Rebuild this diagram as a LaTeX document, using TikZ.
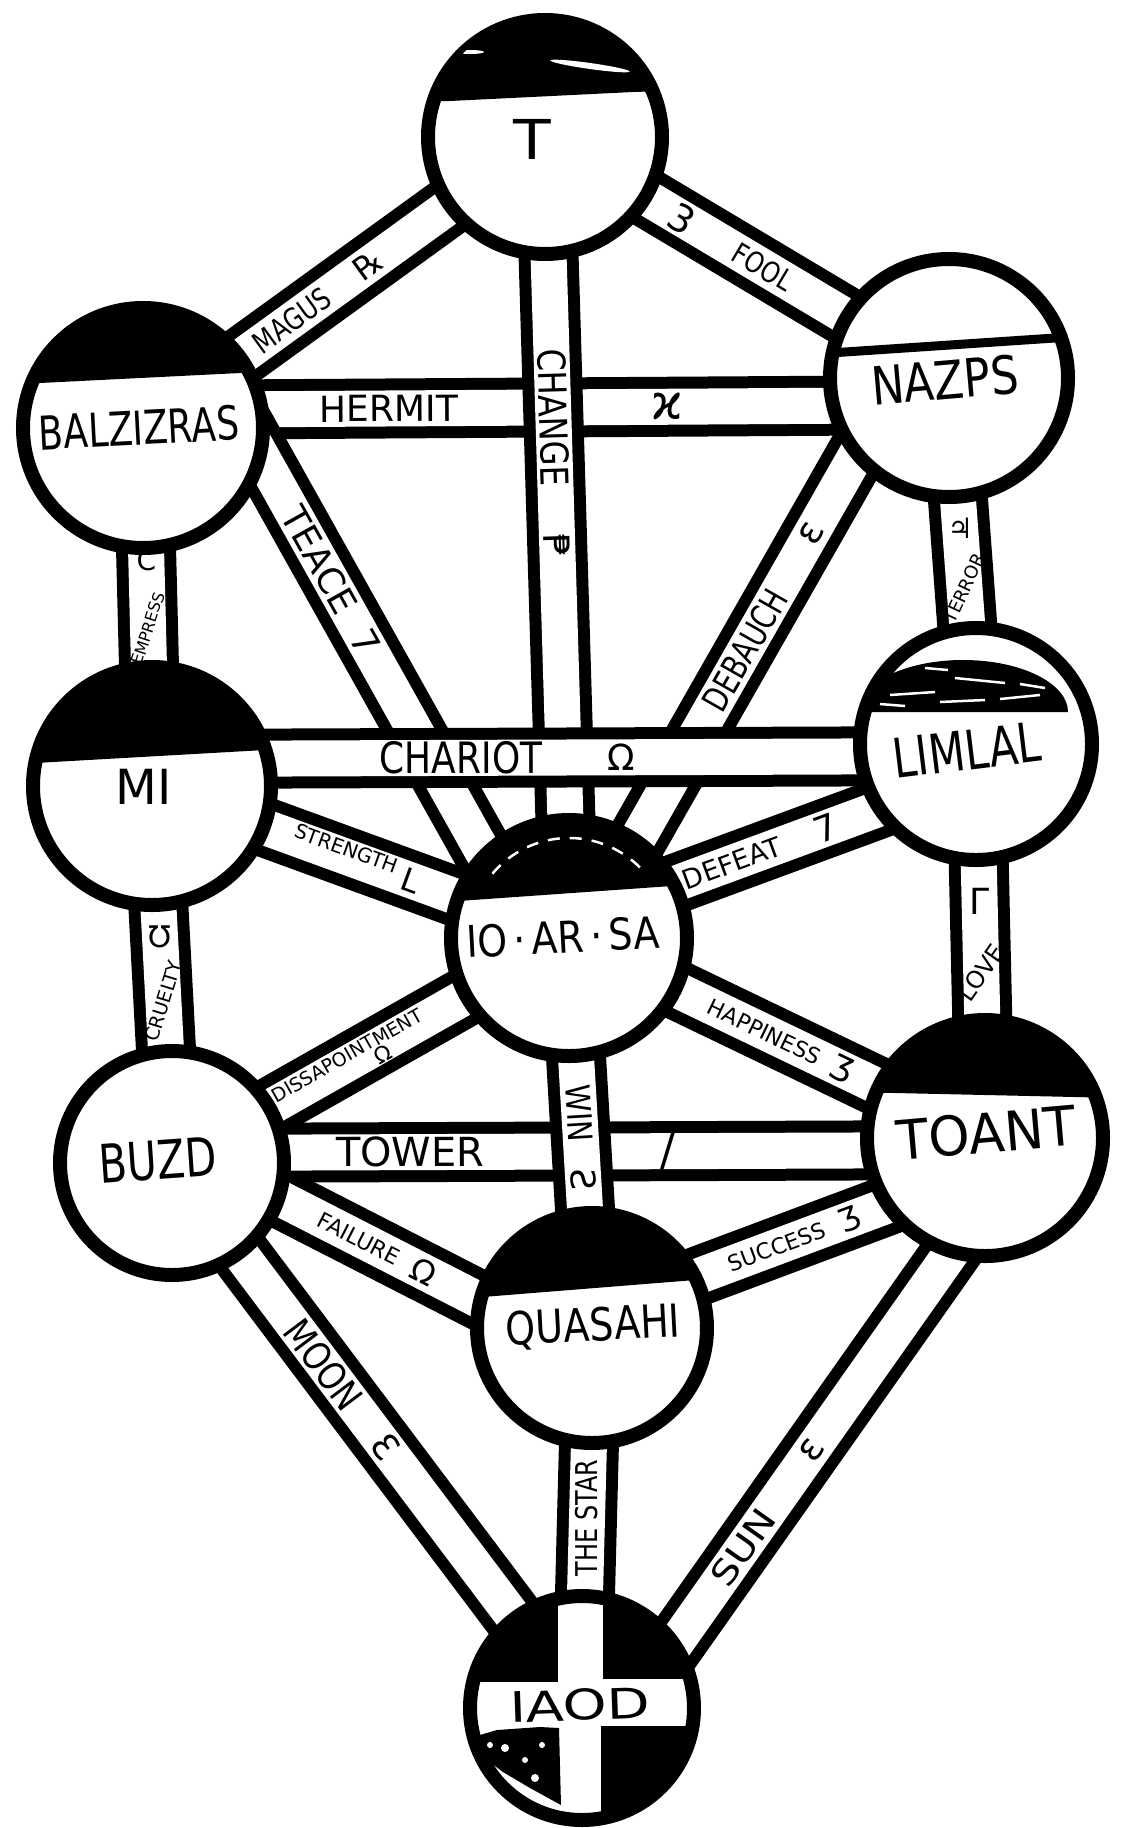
\documentclass[tikz,border=0pt]{standalone}
\usepackage{fontspec}
\usepackage{graphicx}
\setmainfont{DejaVu Sans}
\usetikzlibrary{calc}
\pgfdeclarelayer{paper}
\pgfdeclarelayer{bandA}
\pgfdeclarelayer{bandB}
\pgfdeclarelayer{bandC}
\pgfsetlayers{paper,bandA,bandB,bandC,main}
\newcommand\hw[3]{\scalebox{#1}[#2]{#3}}
\begin{document}
\begin{tikzpicture}[x=1pt,y=-1pt,
  ring/.style={circle,draw=black,line width=14pt,fill=white,inner sep=0pt},
  cname/.style={inner sep=0pt,text=black},
  plab/.style={inner sep=0pt,sloped,text=black},
  vlab/.style={inner sep=0pt,text=black},
  fs/.style={font=\fontsize{#1}{#1}\selectfont},
]
\useasboundingbox (0,0) rectangle (1126,1828);
\begin{pgfonlayer}{paper}
\fill[white] (0,0) rectangle (1126,1828);
\end{pgfonlayer}

% ---------- spheres ----------
\node[ring,minimum size=234pt] (T) at (545,137) {};
\node[ring,minimum size=240pt] (BALZ) at (143,428) {};
\node[ring,minimum size=238pt] (NAZPS) at (949,378) {};
\node[ring,minimum size=238pt] (MI) at (152,786) {};
\node[ring,minimum size=232pt] (LIMLAL) at (976,744) {};
\node[ring,minimum size=236pt] (IO) at (569,938) {};
\node[ring,minimum size=224pt] (BUZD) at (172,1163) {};
\node[ring,minimum size=236pt] (TOANT) at (985,1138) {};
\node[ring,minimum size=230pt] (QUA) at (592,1328) {};
\node[ring,minimum size=224pt] (IAOD) at (582,1708) {};

% ---------- paths (bands) ----------
\begin{pgfonlayer}{bandA}
\foreach \bw/\bc in {60/black,36/white}{
 \draw[line width=\bw pt,draw=\bc] (BALZ.center) -- (T.center);
 \draw[line width=\bw pt,draw=\bc] (T.center) -- (NAZPS.center);
 \draw[line width=\bw pt,draw=\bc] ($(BALZ.center)+(0,-18)$) -- ($(NAZPS.center)+(0,27)$);
 \draw[line width=\bw pt,draw=\bc] (BALZ.center) -- (MI.center);
 \draw[line width=\bw pt,draw=\bc] (NAZPS.center) -- (LIMLAL.center);
}
\end{pgfonlayer}
\begin{pgfonlayer}{bandB}
\foreach \bw/\bc in {60/black,36/white}{
 \draw[line width=\bw pt,draw=\bc] (T.center) -- (IO.center);
 \draw[line width=\bw pt,draw=\bc] ($(BALZ.center)+(83,-35)$) -- ($(IO.center)+(-38,0)$);
 \draw[line width=\bw pt,draw=\bc] ($(IO.center)+(12,0)$) -- ($(NAZPS.center)+(-49,0)$);
 \draw[line width=\bw pt,draw=\bc] (MI.center) -- (IO.center);
 \draw[line width=\bw pt,draw=\bc] ($(IO.center)+(0,-15)$) -- ($(LIMLAL.center)+(0,29)$);
 \draw[line width=\bw pt,draw=\bc] (MI.center) -- (BUZD.center);
 \draw[line width=\bw pt,draw=\bc] (LIMLAL.center) -- (TOANT.center);
 \draw[line width=\bw pt,draw=\bc] (BUZD.center) -- (IO.center);
 \draw[line width=\bw pt,draw=\bc] (IO.center) -- (TOANT.center);
 \draw[line width=\bw pt,draw=\bc] ($(BUZD.center)+(0,-10)$) -- ($(TOANT.center)+(0,12)$);
 \draw[line width=\bw pt,draw=\bc] ($(BUZD.center)+(0,-20)$) -- ($(QUA.center)+(0,30)$);
 \draw[line width=\bw pt,draw=\bc] ($(QUA.center)+(0,-12)$) -- ($(TOANT.center)+(0,31)$);
 \draw[line width=\bw pt,draw=\bc] (BUZD.center) -- (IAOD.center);
 \draw[line width=\bw pt,draw=\bc] (QUA.center) -- (IAOD.center);
 \draw[line width=\bw pt,draw=\bc] ($(TOANT.center)+(47,0)$) -- ($(IAOD.center)+(48,0)$);
}
\end{pgfonlayer}
\begin{pgfonlayer}{bandC}
\foreach \bw/\bc in {60/black,36/white}{
 \draw[line width=\bw pt,draw=\bc] ($(MI.center)+(0,-27)$) -- ($(LIMLAL.center)+(0,12)$);
 \draw[line width=\bw pt,draw=\bc] (IO.center) -- (QUA.center);
}
\end{pgfonlayer}

% ---------- caps and markings inside spheres ----------
\begin{scope}
\clip (T.center) circle[radius=117];
\fill[black] (400,0) -- (700,0) -- (700,90) -- (633,92) -- (450,101) -- (400,102) -- cycle;
\fill[white, rotate around={-8:(590,66)}] (590,66) ellipse[x radius=40,y radius=3];
\fill[white] (470,52) ellipse[x radius=14,y radius=2];
\end{scope}
\begin{scope}
\clip (BALZ.center) circle[radius=120];
\fill[black] (0,385) -- (300,370) -- (300,250) -- (0,250) -- cycle;
\end{scope}
\begin{scope}
\clip (NAZPS.center) circle[radius=119];
\draw[black,line width=9pt] (800,355) -- (1100,335);
\end{scope}
\begin{scope}
\clip (MI.center) circle[radius=119];
\fill[black] (0,765) -- (300,748) -- (300,600) -- (0,600) -- cycle;
\end{scope}
\begin{scope}
\clip (LIMLAL.center) circle[radius=116];
\fill[black] (858,712) arc[start angle=180,end angle=360,x radius=105,y radius=52] -- cycle;
\draw[white,line width=2.5pt] (890,695) -- (935,692) (955,678) -- (1005,683) (880,704) -- (905,706)
  (1000,699) -- (1040,695) (925,668) -- (948,670) (1020,684) -- (1045,688) (940,702) -- (985,700);
\end{scope}
\begin{scope}
\clip (IO.center) circle[radius=118];
\fill[black] (430,903) -- (700,884) -- (700,780) -- (430,780) -- cycle;
\draw[white,line width=2.5pt,dash pattern=on 12pt off 10pt] ($(IO.center)+(-140:100)$) arc[start angle=-140,end angle=-40,radius=100];
\end{scope}
\begin{scope}
\clip (TOANT.center) circle[radius=118];
\fill[black] (850,1092) -- (1120,1098) -- (1120,1000) -- (850,1000) -- cycle;
\end{scope}
\begin{scope}
\clip (QUA.center) circle[radius=115];
\fill[black] (470,1298) -- (720,1278) -- (720,1200) -- (470,1200) -- cycle;
\end{scope}
\begin{scope}
\clip (IAOD.center) circle[radius=112];
\fill[black] (450,1590) rectangle (558,1682);
\fill[black] (603,1590) rectangle (710,1679);
\fill[black] (601,1726) rectangle (710,1830);
\fill[black] (473,1737) -- (497,1730) -- (540,1727) -- (559,1728) -- (561,1805) -- (530,1788) -- (503,1772) -- (483,1757) -- cycle;
\fill[white] (505,1748) circle[radius=4] (525,1760) circle[radius=3] (490,1745) circle[radius=3] (542,1745) circle[radius=3] (535,1778) circle[radius=4];
\end{scope}

% ---------- sphere names ----------
\node[cname,fs=44] (nT) at (532,139) {\hw{1.4}{1.25}{T}};
\node[cname,fs=36,rotate=3] (nBALZ) at (139,428) {\hw{1}{1.3}{BALZIZRAS}};
\node[cname,fs=44,rotate=5] (nNAZPS) at (945,380) {\hw{1}{1.2}{NAZPS}};
\node[cname,fs=44] (nMI) at (144,787) {\hw{1.1}{1.1}{MI}};
\node[cname,fs=42,rotate=7] (nLIMLAL) at (967,750) {\hw{1}{1.3}{LIMLAL}};
\node[cname,fs=38,rotate=3] (nIO) at (563,937) {\hw{1}{1.15}{IO\,·\,AR\,·\,SA}};
\node[cname,fs=41,rotate=4] (nBUZD) at (158,1160) {\hw{1}{1.3}{BUZD}};
\node[cname,fs=42,rotate=5] (nTOANT) at (986,1133) {\hw{1.25}{1.3}{TOANT}};
\node[cname,fs=38,rotate=3] (nQUA) at (593,1327) {\hw{1}{1.2}{QUASAHI}};
\node[cname,fs=40,rotate=2] (nIAOD) at (580,1705) {\hw{1.4}{1.05}{IAOD}};

% ---------- path labels ----------
\path (BALZ.center) -- node[plab,fs=24,pos=.37] (lMAGUS) {\hw{1}{1.25}{MAGUS}}
  node[plab,fs=32,pos=.56] (sMAGUS) {℞} (T.center);
\path (T.center) -- node[plab,fs=38,pos=.34] (sFOOL) {3}
  node[plab,fs=24,pos=.54] (lFOOL) {\hw{1}{1.2}{FOOL}} (NAZPS.center);
\path ($(BALZ.center)+(0,-18)$) -- node[plab,fs=36,pos=.305] (lHERMIT) {HERMIT}
  node[plab,fs=48,pos=.65] (sHERMIT) {ϰ} ($(NAZPS.center)+(0,27)$);
\path (T.center) -- node[plab,fs=32,pos=.35] (lCHANGE) {\hw{1}{1.2}{CHANGE}}
  node[plab,fs=36,pos=.51] (sCHANGE) {₱} (IO.center);
\path ($(BALZ.center)+(83,-35)$) -- node[plab,fs=36,pos=.306] (lTEACE) {TEACE}
  node[plab,fs=36,pos=.457] (sTEACE) {7} ($(IO.center)+(-38,0)$);
\path ($(IO.center)+(12,0)$) -- node[plab,fs=27,pos=.514] (lDEB) {\hw{1}{1.3}{DEBAUCH}}
  node[plab,fs=38,pos=.723] (sDEB) {ε} ($(NAZPS.center)+(-49,0)$);
\path ($(MI.center)+(0,-27)$) -- node[plab,fs=36,pos=.375] (lCHAR) {\hw{1}{1.2}{CHARIOT}}
  node[plab,fs=36,pos=.57] (sCHAR) {Ω} ($(LIMLAL.center)+(0,12)$);
\path (MI.center) -- node[plab,fs=20,pos=.46,anchor=south] (lSTR) {STRENGTH}
  node[plab,fs=32,pos=.62] (sSTR) {L} (IO.center);
\path ($(IO.center)+(0,-15)$) -- node[plab,fs=27,pos=.40] (lDEF) {DEFEAT}
  node[plab,fs=36,pos=.63] (sDEF) {7} ($(LIMLAL.center)+(0,29)$);
\path (BALZ.center) -- node[vlab,fs=28,pos=.37] (sEMP) {C}
  node[vlab,fs=16,pos=.56,rotate=72] (lEMP) {EMPRESS} (MI.center);
\path (NAZPS.center) -- node[vlab,fs=28,pos=.41] (sTER) {♃}
  node[vlab,fs=18,pos=.575,rotate=65] (lTER) {TERROR} (LIMLAL.center);
\path (MI.center) -- node[vlab,fs=30,pos=.40] (sCRU) {Ʊ}
  node[vlab,fs=19,pos=.57,rotate=73] (lCRU) {CRUELTY} (BUZD.center);
\path (LIMLAL.center) -- node[vlab,fs=36,pos=.40] (sLOVE) {Γ}
  node[vlab,fs=24,pos=.58,rotate=55] (lLOVE) {LOVE} (TOANT.center);
\path (BUZD.center) -- node[plab,fs=19,pos=.45,anchor=south] (lDIS) {DISSAPOINTMENT}
  node[plab,fs=22,pos=.52,anchor=north,yshift=-1pt] (sDIS) {Ω} (IO.center);
\path (IO.center) -- node[plab,fs=22,pos=.47] (lHAP) {HAPPINESS}
  node[plab,fs=34,pos=.655] (sHAP) {Ʒ} (TOANT.center);
\path ($(BUZD.center)+(0,-10)$) -- node[plab,fs=40,pos=.293] (lTOW) {TOWER}
  node[plab,fs=44,pos=.61] (sTOW) {/} ($(TOANT.center)+(0,12)$);
\path (IO.center) -- node[plab,fs=28,pos=.45] (lWIN) {\hw{1}{1.2}{WIN}}
  node[plab,fs=34,pos=.62] (sWIN) {Ƨ} (QUA.center);
\path ($(BUZD.center)+(0,-20)$) -- node[plab,fs=22,pos=.445] (lFAIL) {FAILURE}
  node[plab,fs=32,pos=.60] (sFAIL) {Ω} ($(QUA.center)+(0,30)$);
\path ($(QUA.center)+(0,-12)$) -- node[plab,fs=22,pos=.47] (lSUC) {SUCCESS}
  node[plab,fs=32,pos=.656] (sSUC) {Ʒ} ($(TOANT.center)+(0,31)$);
\path (BUZD.center) -- node[plab,fs=32,pos=.37] (lMOON) {\hw{1}{1.2}{MOON}}
  node[plab,fs=36,pos=.52] (sMOON) {Ɛ} (IAOD.center);
\path (QUA.center) -- node[vlab,fs=24,pos=.50,rotate=90] (lSTAR) {\hw{1}{1.25}{THE STAR}} (IAOD.center);
\path ($(TOANT.center)+(47,0)$) -- node[plab,fs=34,pos=.718] (lSUN) {\hw{1.2}{1}{SUN}}
  node[plab,fs=38,pos=.547] (sSUN) {ε} ($(IAOD.center)+(48,0)$);
\end{tikzpicture}
\end{document}
